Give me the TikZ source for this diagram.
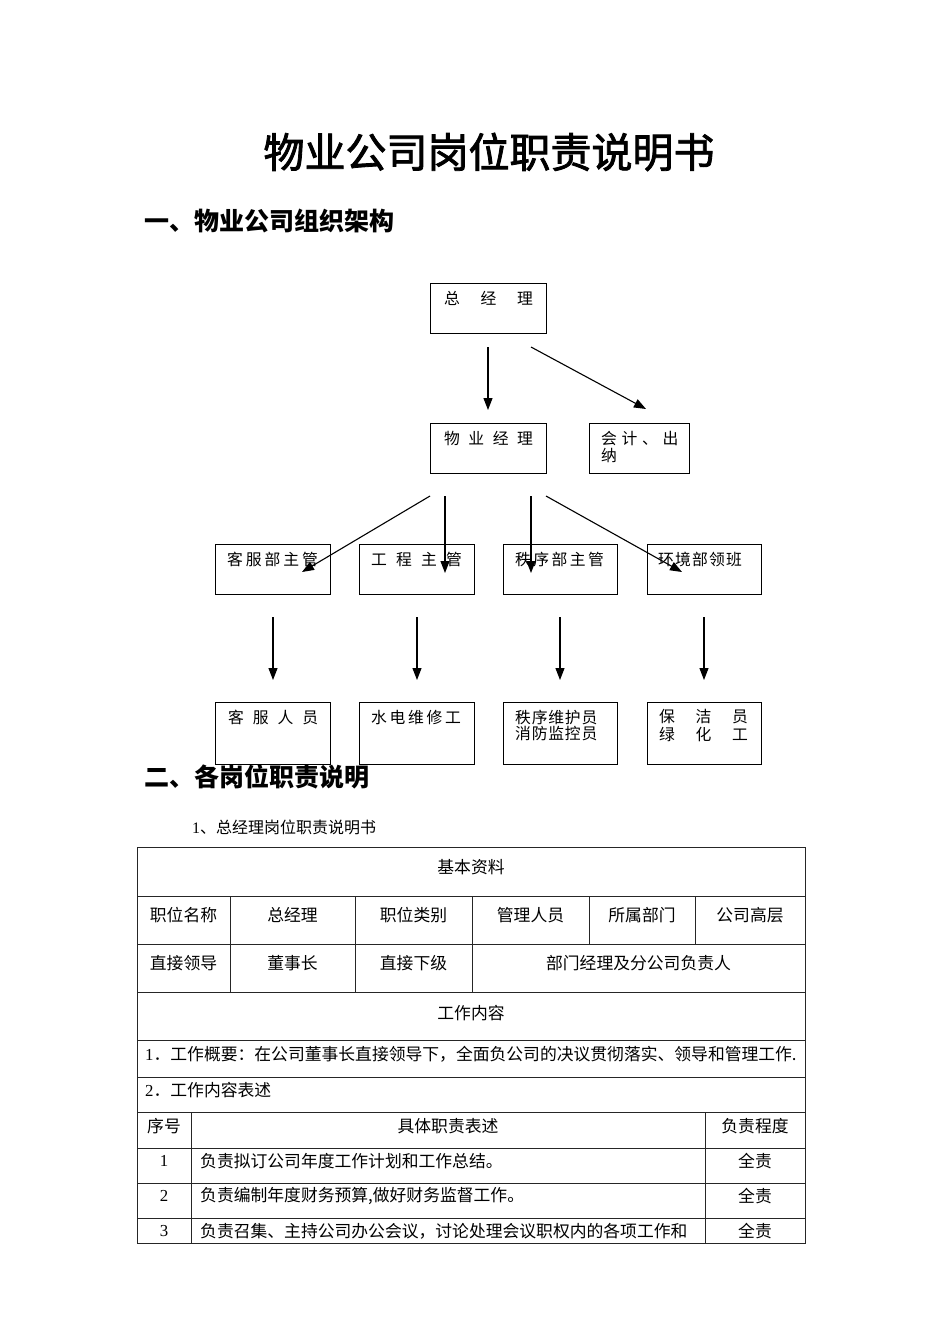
\documentclass[tikz,border=0pt]{standalone}
\usepackage{fontspec}
\setmainfont{Noto Sans CJK SC}
\newfontfamily\hei[FakeBold=2]{Noto Sans CJK SC}
\newfontfamily\tms{Liberation Serif}
\usetikzlibrary{arrows.meta}
\newcommand\spaced[2]{\foreach \ch in {#2}{\makebox[#1pt][l]{\ch}}}
\begin{document}
\begin{tikzpicture}[x=1pt,y=-1pt,
  box/.style={draw,line width=1.1pt,inner sep=0pt,anchor=north west},
  lbl/.style={inner sep=0pt,anchor=west,font=\fontsize{15.8}{17}\selectfont},
  arr/.style={line width=1.1pt,-{Triangle[length=12pt,width=9pt]}},
  tline/.style={line width=0.9pt,draw=black!85},
  tt/.style={inner sep=0pt,font=\fontsize{16.8}{18}\selectfont},
  ttl/.style={tt,anchor=west},
  hd/.style={inner sep=0pt,anchor=west,font=\fontsize{25}{28}\selectfont\bfseries}]
\useasboundingbox (0,0) rectangle (950,1344);
\fill[white] (0,0) rectangle (950,1344);
% title and headings
\node[inner sep=0pt,font=\fontsize{41}{46}\hei] (title) at (489,152) {物业公司岗位职责说明书};
\node[hd] (h1) at (144,221) {一、物业公司组织架构};
% boxes
\node[box,minimum width=116pt,minimum height=50pt] (gm) at (430,283) {};
\node[box,minimum width=116pt,minimum height=50pt] (pm) at (430,423) {};
\node[box,minimum width=100pt,minimum height=50pt] (acc) at (589,423) {};
\node[box,minimum width=115pt,minimum height=50pt] (kf) at (215,544) {};
\node[box,minimum width=115pt,minimum height=50pt] (gc) at (359,544) {};
\node[box,minimum width=114pt,minimum height=50pt] (zx) at (503,544) {};
\node[box,minimum width=114pt,minimum height=50pt] (hj) at (647,544) {};
\node[box,minimum width=115pt,minimum height=62pt] (kfr) at (215,702) {};
\node[box,minimum width=115pt,minimum height=62pt] (sd) at (359,702) {};
\node[box,minimum width=114pt,minimum height=62pt] (zxw) at (503,702) {};
\node[box,minimum width=114pt,minimum height=62pt] (bj) at (647,702) {};
% box texts
\node[lbl] (gmt) at (444,298) {\spaced{36.5}{总,经,理}};
\node[lbl] (pmt) at (444,438) {\spaced{24.3}{物,业,经,理}};
\node[lbl] (acct1) at (601,438) {\spaced{20.5}{会,计,、,出}};
\node[lbl] (acct2) at (601,455) {纳};
\node[lbl] (kft) at (227,559) {\spaced{18.75}{客,服,部,主,管}};
\node[lbl] (gct) at (371,559) {\spaced{25}{工,程,主,管}};
\node[lbl] (zxt) at (515,559) {\spaced{18.25}{秩,序,部,主,管}};
\node[lbl] (hjt) at (658,559) {\spaced{17}{环,境,部,领,班}};
\node[lbl] (kfrt) at (228,717) {\spaced{24.7}{客,服,人,员}};
\node[lbl] (sdt) at (371,717) {\spaced{18.5}{水,电,维,修,工}};
\node[lbl] (zxwt1) at (515,717) {\spaced{16.6}{秩,序,维,护,员}};
\node[lbl] (zxwt2) at (515,734) {\spaced{16.6}{消,防,监,控,员}};
\node[lbl] (bjt1) at (659,717) {\spaced{36.5}{保,洁,员}};
\node[lbl] (bjt2) at (659,734) {\spaced{36.5}{绿,化,工}};
% arrow end points
\coordinate (a1s) at (488,347); \coordinate (a1e) at (488,410);
\coordinate (a2s) at (531,347); \coordinate (a2e) at (646,409);
\coordinate (b1s) at (430,496); \coordinate (b1e) at (302,572);
\coordinate (b2s) at (445,496); \coordinate (b2e) at (445,573);
\coordinate (b3s) at (531,496); \coordinate (b3e) at (531,573);
\coordinate (b4s) at (546,496); \coordinate (b4e) at (682,572);
\coordinate (c1s) at (273,617); \coordinate (c1e) at (273,680);
\coordinate (c2s) at (417,617); \coordinate (c2e) at (417,680);
\coordinate (c3s) at (560,617); \coordinate (c3e) at (560,680);
\coordinate (c4s) at (704,617); \coordinate (c4e) at (704,680);
\foreach \p in {a1,a2,b1,b2,b3,b4,c1,c2,c3,c4}{\draw[arr] (\p s) -- (\p e);}
% section 2
\node[hd] (h2) at (144,777) {二、各岗位职责说明};
\node[inner sep=0pt,anchor=west,font=\fontsize{16}{18}\selectfont] (sub) at (192,827) {{\tms 1}、总经理岗位职责说明书};
% table lines
\draw[tline] (137,847) rectangle (805,1243);
\foreach \yy in {896,944,992,1040,1077,1112,1148,1183,1218}{\draw[tline] (137,\yy) -- (805,\yy);}
\foreach \xx in {230,355,472}{\draw[tline] (\xx,896) -- (\xx,992);}
\foreach \xx in {589,695}{\draw[tline] (\xx,896) -- (\xx,944);}
\foreach \xx in {191,705}{\draw[tline] (\xx,1112) -- (\xx,1243);}
% table texts
\node[tt] (t0) at (471,867) {基本资料};
\node[tt] (t11) at (183.5,915) {职位名称};
\node[tt] (t12) at (292.5,915) {总经理};
\node[tt] (t13) at (413.5,915) {职位类别};
\node[tt] (t14) at (530.5,915) {管理人员};
\node[tt] (t15) at (642,915) {所属部门};
\node[tt] (t16) at (750,915) {公司高层};
\node[tt] (t21) at (183.5,963) {直接领导};
\node[tt] (t22) at (292.5,963) {董事长};
\node[tt] (t23) at (413.5,963) {直接下级};
\node[tt] (t24) at (638.5,963) {部门经理及分公司负责人};
\node[tt] (t3) at (471,1013) {工作内容};
\node[ttl] (t4) at (145,1054) {{\tms 1}．工作概要：在公司董事长直接领导下，全面负公司的决议贯彻落实、领导和管理工作.};
\node[ttl] (t5) at (145,1090) {{\tms 2}．工作内容表述};
\node[tt] (t61) at (164,1126) {序号};
\node[tt] (t62) at (448,1126) {具体职责表述};
\node[tt] (t63) at (755,1126) {负责程度};
\node[tt,font=\fontsize{16.8}{18}\tms] (n1) at (164,1161) {1};
\node[ttl] (d1) at (200,1161) {负责拟订公司年度工作计划和工作总结。};
\node[tt] (r1) at (755,1161) {全责};
\node[tt,font=\fontsize{16.8}{18}\tms] (n2) at (164,1196) {2};
\node[ttl] (d2) at (200,1196) {负责编制年度财务预算,做好财务监督工作。};
\node[tt] (r2) at (755,1196) {全责};
\node[tt,font=\fontsize{16.8}{18}\tms] (n3) at (164,1231) {3};
\node[ttl] (d3) at (200,1231) {负责召集、主持公司办公会议，讨论处理会议职权内的各项工作和};
\node[tt] (r3) at (755,1231) {全责};
\end{tikzpicture}
\end{document}
